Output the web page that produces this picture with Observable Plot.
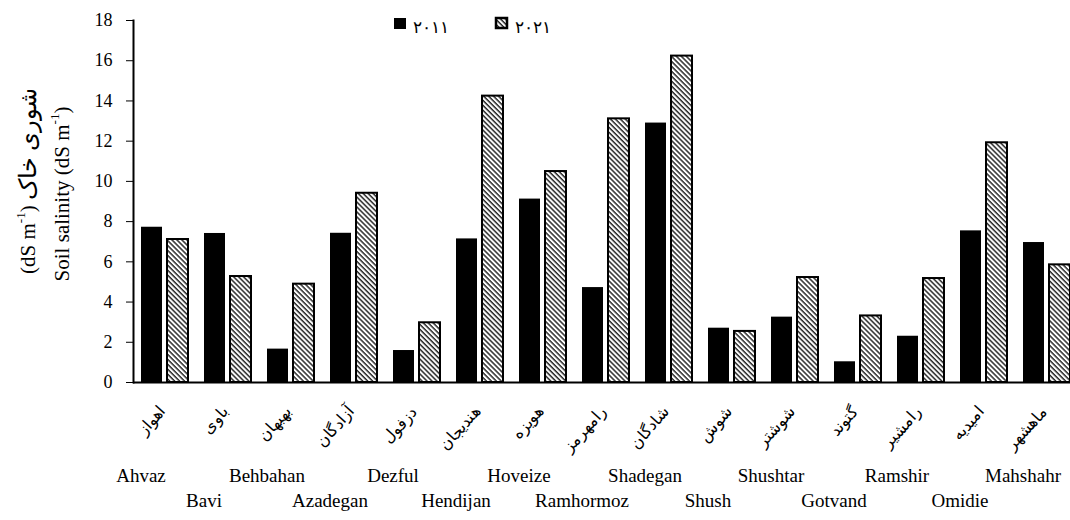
<!DOCTYPE html>
<html><head><meta charset="utf-8">
<script src="https://cdn.jsdelivr.net/npm/d3@7"></script>
<script src="https://cdn.jsdelivr.net/npm/@observablehq/plot@0.6"></script>
<style>body{margin:0;background:#fff} #chart{width:1070px;height:520px} svg text{font-family:"Liberation Serif";}</style>
</head><body><div id="chart"></div>
<script>
const sitesEn = ["Ahvaz","Bavi","Behbahan","Azadegan","Dezful","Hendijan","Hoveize","Ramhormoz","Shadegan","Shush","Shushtar","Gotvand","Ramshir","Omidie","Mahshahr"];
const sitesFa = ["اهواز","باوی","بهبهان","آزادگان","دزفول","هندیجان","هویزه","رامهرمز","شادگان","شوش","شوشتر","گتوند","رامشیر","امیدیه","ماهشهر"];
const salinity2011 = [7.72, 7.41, 1.66, 7.42, 1.59, 7.14, 9.12, 4.72, 12.9, 2.70, 3.25, 1.03, 2.30, 7.54, 6.96];
const salinity2021 = [7.11, 5.27, 4.89, 9.41, 2.97, 14.24, 10.49, 13.11, 16.23, 2.54, 5.22, 3.31, 5.17, 11.92, 5.85];
const yTicks = [0, 2, 4, 6, 8, 10, 12, 14, 16, 18];
const yearLabels = ["۲۰۱۱", "۲۰۲۱"];

const rows2011 = sitesEn.map((s, i) => ({site: s, v: salinity2011[i]}));
const rows2021 = sitesEn.map((s, i) => ({site: s, v: salinity2021[i]}));
const enRow1 = sitesEn.filter((d, i) => i % 2 === 0);
const enRow2 = sitesEn.filter((d, i) => i % 2 === 1);

const serif = "Liberation Serif";

const svg = Plot.plot({
  width: 1070,
  height: 520,
  marginTop: 20,
  marginBottom: 138,
  marginLeft: 133,
  marginRight: 0,
  style: {fontFamily: serif, fontSize: "17px", background: "#fff", color: "#000", overflow: "visible"},
  x: {domain: sitesEn, range: [133, 1078], padding: 0, axis: null},
  y: {domain: [0, 18], axis: null},
  marks: [
    Plot.barY(rows2011, {x: "site", y: "v", fill: "black", insetLeft: 8, insetRight: 34}),
    Plot.barY(rows2021, {x: "site", y: "v", fill: "url(#hatch)", stroke: "black", strokeWidth: 2, insetLeft: 34, insetRight: 8}),
    Plot.ruleY([0], {stroke: "black", strokeWidth: 2}),
    Plot.frame({anchor: "left", stroke: "black", strokeWidth: 2}),
    Plot.axisY({ticks: yTicks, tickSize: 7, tickPadding: 14, fontSize: 18, fontFamily: serif, label: null, tickFormat: d => String(d)}),
    Plot.text(sitesEn, {x: d => d, text: (d, i) => sitesFa[i], frameAnchor: "bottom", rotate: -48, textAnchor: "end", dy: 30, dx: 1, fontSize: 16, fontFamily: serif}),
    Plot.text(enRow1, {x: d => d, text: d => d, frameAnchor: "bottom", dy: 99, dx: -24, fontSize: 19, fontFamily: serif}),
    Plot.text(enRow2, {x: d => d, text: d => d, frameAnchor: "bottom", dy: 124, dx: -24, fontSize: 19, fontFamily: serif})
  ]
});

const s = d3.select(svg);
const defs = s.insert("defs", ":first-child");
const pat = defs.append("pattern").attr("id", "hatch").attr("patternUnits", "userSpaceOnUse")
  .attr("width", 3.5).attr("height", 3.5).attr("patternTransform", "rotate(-45)");
pat.append("rect").attr("width", 3.5).attr("height", 3.5).attr("fill", "white");
pat.append("line").attr("x1", 1).attr("y1", 0).attr("x2", 1).attr("y2", 3.5)
  .attr("stroke", "#1a1a1a").attr("stroke-width", 1.4);

// Y-axis title (two lines)
const g = s.append("g").attr("fill", "black");
const t1 = g.append("text").attr("transform", "translate(62,194) rotate(-90)")
  .attr("text-anchor", "middle").attr("dominant-baseline", "central").attr("font-size", 21);
t1.append("tspan").text("Soil salinity (dS m");
t1.append("tspan").attr("baseline-shift", "super").attr("font-size", 13).text("-1");
t1.append("tspan").text(")");
const t2 = g.append("text").attr("transform", "translate(28,181) rotate(-90)")
  .attr("text-anchor", "middle").attr("dominant-baseline", "central").attr("font-size", 21);
t2.append("tspan").text("(dS m");
t2.append("tspan").attr("baseline-shift", "super").attr("font-size", 13).text("-1");
t2.append("tspan").text(") ");
t2.append("tspan").attr("font-size", 24).text("شوری خاک");

// Legend
const lg = s.append("g").attr("font-size", 17).attr("text-anchor", "start");
lg.append("rect").attr("x", 394).attr("y", 18).attr("width", 12).attr("height", 11).attr("fill", "black");
lg.append("text").attr("x", 413).attr("y", 33).attr("letter-spacing", 2).text(yearLabels[0]);
lg.append("rect").attr("x", 496).attr("y", 18).attr("width", 11).attr("height", 10).attr("fill", "url(#hatch)").attr("stroke", "black").attr("stroke-width", 2.5);
lg.append("text").attr("x", 515).attr("y", 33).attr("letter-spacing", 2).text(yearLabels[1]);

document.getElementById("chart").appendChild(svg);
</script>
</body></html>
